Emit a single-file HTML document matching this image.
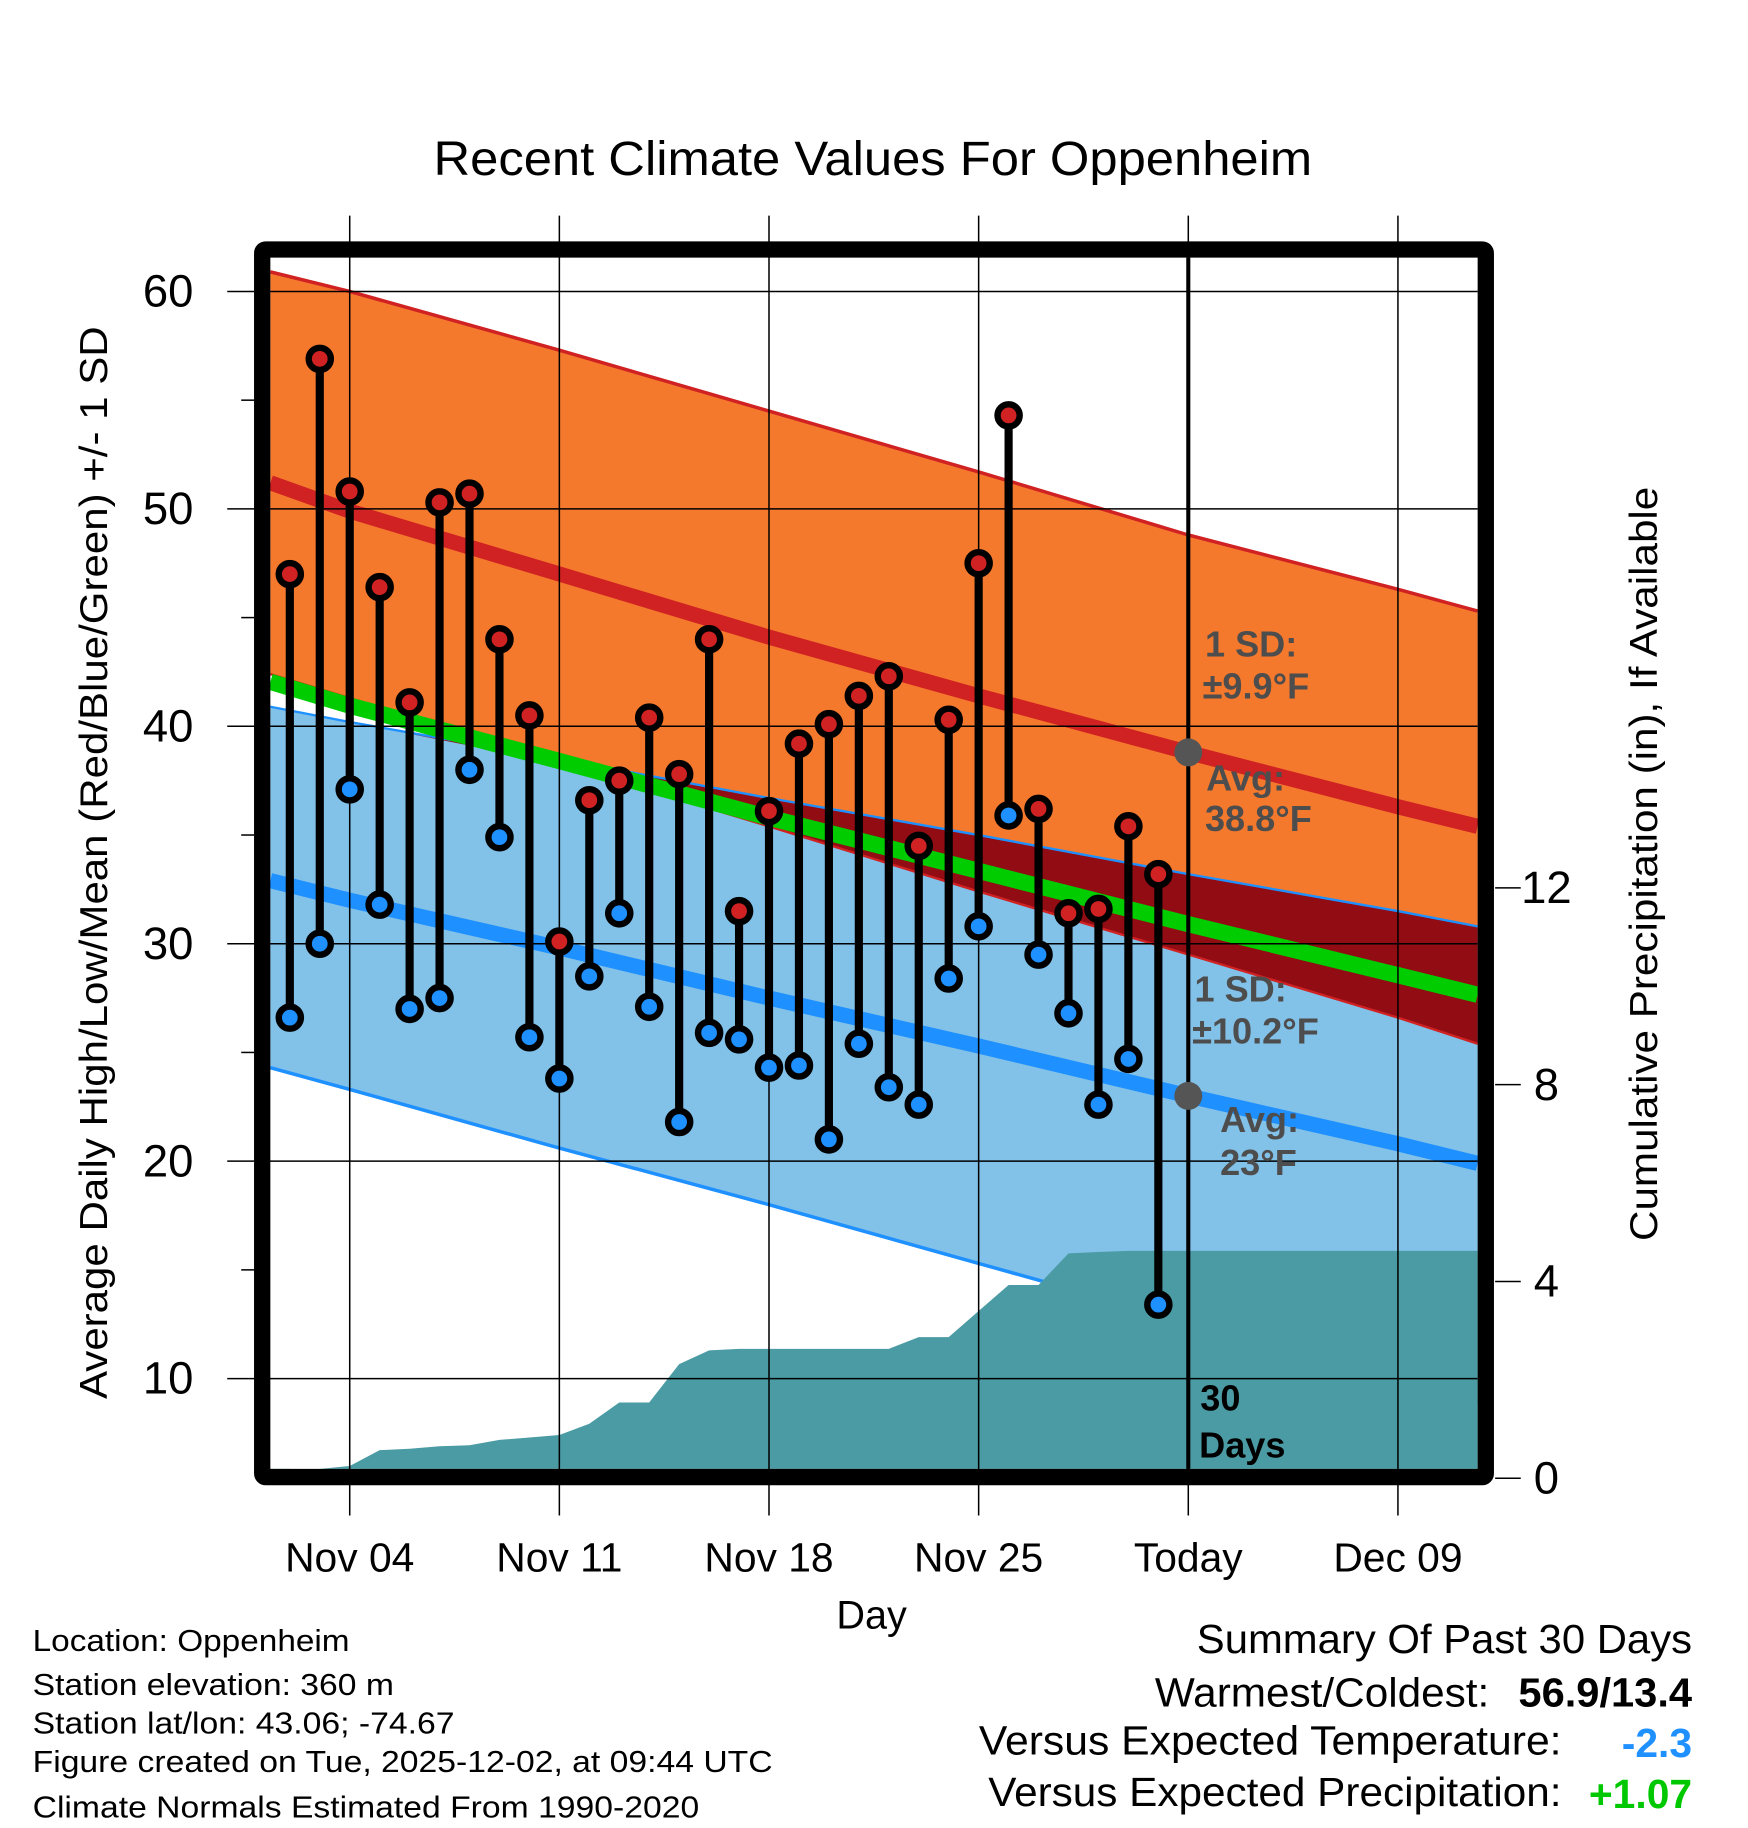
<!DOCTYPE html>
<html><head><meta charset="utf-8"><style>
html,body{margin:0;padding:0;background:#fff}
svg{display:block}
text{font-family:"Liberation Sans",sans-serif}
</style></head><body>
<svg id="chart" width="1748" height="1828" viewBox="0 0 1500 1568" preserveAspectRatio="none" xmlns="http://www.w3.org/2000/svg">
<rect x="0" y="0" width="1500" height="1568" fill="#fff"/>
<g id="plot"></g>
<text x="372" y="150" font-size="41" textLength="754" lengthAdjust="spacingAndGlyphs">Recent Climate Values For Oppenheim</text>
<text transform="translate(92,740) rotate(-90)" font-size="33" text-anchor="middle" textLength="920" lengthAdjust="spacingAndGlyphs">Average Daily High/Low/Mean (Red/Blue/Green) +/- 1 SD</text>
<text transform="translate(1422,741) rotate(-90)" font-size="33" text-anchor="middle" textLength="647" lengthAdjust="spacingAndGlyphs">Cumulative Precipitation (in), If Available</text>
<text x="748" y="1397" font-size="34" text-anchor="middle">Day</text>
<g font-size="26">
<text x="28" y="1416" textLength="272" lengthAdjust="spacingAndGlyphs">Location: Oppenheim</text>
<text x="28" y="1454" textLength="310" lengthAdjust="spacingAndGlyphs">Station elevation: 360 m</text>
<text x="28" y="1487" textLength="362" lengthAdjust="spacingAndGlyphs">Station lat/lon: 43.06; -74.67</text>
<text x="28" y="1520" textLength="635" lengthAdjust="spacingAndGlyphs">Figure created on Tue, 2025-12-02, at 09:44 UTC</text>
<text x="28" y="1559" textLength="572" lengthAdjust="spacingAndGlyphs">Climate Normals Estimated From 1990-2020</text>
</g>
<g font-size="35">
<text x="1027" y="1418" textLength="425" lengthAdjust="spacingAndGlyphs">Summary Of Past 30 Days</text>
<text x="991" y="1464" textLength="287" lengthAdjust="spacingAndGlyphs">Warmest/Coldest:</text>
<text x="1303" y="1464" font-weight="bold" textLength="149" lengthAdjust="spacingAndGlyphs">56.9/13.4</text>
<text x="840" y="1505" textLength="500" lengthAdjust="spacingAndGlyphs">Versus Expected Temperature:</text>
<text x="1452" y="1507" text-anchor="end" font-weight="bold" fill="#1E90FF">-2.3</text>
<text x="848" y="1549" textLength="492" lengthAdjust="spacingAndGlyphs">Versus Expected Precipitation:</text>
<text x="1452" y="1551" text-anchor="end" font-weight="bold" fill="#00C800">+1.07</text>
</g>
</svg>
<script>
// Daily observations (Nov 2 .. Dec 1), day numbers relative to Nov 1 = 1
const obsDays = [2,3,4,5,6,7,8,9,10,11,12,13,14,15,16,17,18,19,20,21,22,23,24,25,26,27,28,29,30,31];
const highs = [47,56.9,50.8,46.4,41.1,50.3,50.7,44,40.5,30.1,36.6,37.5,40.4,37.8,44,31.5,36.1,39.2,40.1,41.4,42.3,34.5,40.3,47.5,54.3,36.2,31.4,31.6,35.4,33.2];
const lows = [26.6,30,37.1,31.8,27,27.5,38,34.9,25.7,23.8,28.5,31.4,27.1,21.8,25.9,25.6,24.3,24.4,21,25.4,23.4,22.6,28.4,30.8,35.9,29.5,26.8,22.6,24.7,13.4];
const precipCum = [0,0.05,0.25,0.57,0.6,0.65,0.67,0.78,0.83,0.88,1.11,1.54,1.54,2.32,2.6,2.63,2.63,2.63,2.63,2.63,2.63,2.87,2.87,3.4,3.93,3.93,4.57,4.6,4.62,4.62];
// Climate normals
const normDays = [1.35,4,11,18,25,32,39,41.66];
const hiUpper = [60.9,60.0,57.3,54.5,51.7,48.8,46.3,45.3];
const hiAvg = [51.2,49.9,47.0,44.1,41.4,38.8,36.3,35.4];
const hiLower = [42.4,41.3,38.3,35.4,32.4,29.5,26.6,25.4];
const loUpper = [40.9,40.2,38.5,36.7,35.0,33.2,31.5,30.8];
const loAvg = [32.9,32.0,29.8,27.5,25.3,23.0,20.8,19.9];
const loLower = [24.3,23.3,20.6,18.0,15.3,12.6,9.9,8.9];
const yTicks = [10,20,30,40,50,60];
const yMinor = [15,25,35,45,55];
const y2Ticks = [0,4,8,12];
const xTickDays = [4,11,18,25,32,39];
const xTickLabels = ["Nov 04","Nov 11","Nov 18","Nov 25","Today","Dec 09"];
const todayDay = 32;

const L=232,R=1268,T=221,B=1260;
const X=d=>223+25.7*(d-1);
const Y=v=>250+(60-v)*18.65;
const Y2=p=>1268-p*42.2;
const NS='http://www.w3.org/2000/svg';
const plot=document.getElementById('plot');
function mk(tag,attrs,parent){const e=document.createElementNS(NS,tag);for(const k in attrs)e.setAttribute(k,attrs[k]);(parent||plot).appendChild(e);return e;}
function pts(days,vals){return days.map((d,i)=>X(d).toFixed(1)+','+Y(vals[i]).toFixed(1));}
function band(up,lo){return pts(normDays,up).concat(pts(normDays,lo).reverse()).join(' ');}

let e;
e=mk('polygon',{points:band(hiUpper,hiLower),fill:'#F5792D'});


e=mk('polygon',{points:band(loUpper,loLower),fill:'#82C1E8'});


const ovBot=hiLower.map((v,i)=>Math.min(v,loUpper[i]));
e=mk('polygon',{points:band(loUpper,ovBot),fill:'#920C14'});


e=mk('polyline',{points:pts(normDays,hiUpper).join(' '),fill:'none',stroke:'#D02222','stroke-width':3});


e=mk('polyline',{points:pts(normDays,hiLower).join(' '),fill:'none',stroke:'#D02222','stroke-width':2});


e=mk('polyline',{points:pts(normDays,loUpper).join(' '),fill:'none',stroke:'#1E90FF','stroke-width':2});


e=mk('polyline',{points:pts(normDays,loLower).join(' '),fill:'none',stroke:'#1E90FF','stroke-width':3});


const meanVals=hiAvg.map((v,i)=>(v+loAvg[i])/2);
e=mk('polyline',{points:pts(normDays,meanVals).join(' '),fill:'none',stroke:'#00CC00','stroke-width':14});


e=mk('polyline',{points:pts(normDays,hiAvg).join(' '),fill:'none',stroke:'#D02222','stroke-width':13});


e=mk('polyline',{points:pts(normDays,loAvg).join(' '),fill:'none',stroke:'#1E90FF','stroke-width':13});



// precipitation area
let pp=[L+','+B, L+','+Y2(0)];
obsDays.forEach((d,i)=>pp.push(X(d).toFixed(1)+','+Math.min(B,Y2(precipCum[i])).toFixed(1)));
pp.push(R+','+Y2(precipCum[precipCum.length-1]).toFixed(1));
pp.push(R+','+B);
e=mk('polygon',{points:pp.join(' '),fill:'#4A9BA4'});



// grid
yTicks.forEach(v=>{
  e=mk('line',{x1:195,x2:R,y1:Y(v),y2:Y(v),stroke:'#000','stroke-width':1.3});
  
  
  e=mk('text',{x:166,y:Y(v)+13,'font-size':39,'text-anchor':'end'});e.textContent=v;
  
  
});
yMinor.forEach(v=>{
  e=mk('line',{x1:207,x2:218,y1:Y(v),y2:Y(v),stroke:'#000','stroke-width':1.3});
  
  
});
y2Ticks.forEach(p=>{
  e=mk('line',{x1:1283,x2:1305,y1:Y2(p),y2:Y2(p),stroke:'#000','stroke-width':1.3});
  
  
  e=mk('text',{x:1327,y:Y2(p)+13,'font-size':39,'text-anchor':'middle'});e.textContent=p;
  
  
});
xTickDays.forEach((d,i)=>{
  e=mk('line',{x1:X(d),x2:X(d),y1:185,y2:1300,stroke:'#000','stroke-width':1.3});
  
  
  e=mk('text',{x:X(d),y:1348,'font-size':35,'text-anchor':'middle'});e.textContent=xTickLabels[i];
  
  
});

// stems and markers
obsDays.forEach((d,i)=>{
  const x=X(d);
  e=mk('line',{x1:x,x2:x,y1:Y(highs[i]),y2:Y(lows[i]),stroke:'#000','stroke-width':7});
  
  
});
obsDays.forEach((d,i)=>{
  const x=X(d);
  e=mk('circle',{cx:x,cy:Y(highs[i]),r:9.5,fill:'#D02222',stroke:'#000','stroke-width':5.5});
  
  
  e=mk('circle',{cx:x,cy:Y(lows[i]),r:9.5,fill:'#1E90FF',stroke:'#000','stroke-width':5.5});
  
  
});

// today line
const tx=X(todayDay);
e=mk('line',{x1:tx,x2:tx,y1:T,y2:B,stroke:'#000','stroke-width':3.5});


const tIdx=5;
e=mk('circle',{cx:tx,cy:Y(hiAvg[tIdx]),r:12,fill:'#555'});


e=mk('circle',{cx:tx,cy:Y(loAvg[tIdx]),r:12,fill:'#555'});


const labels=[[1034,563,'1 SD:'],[1032,599,'±9.9°F'],[1035,678,'Avg:'],[1034,713,'38.8°F'],[1025,859,'1 SD:'],[1023,895,'±10.2°F'],[1047,971,'Avg:'],[1047,1008,'23°F']];
labels.forEach(l=>{
  e=mk('text',{x:l[0],y:l[1],'font-size':31,'font-weight':'bold',fill:'#4d4d4d'});e.textContent=l[2];
  
  
});
e=mk('text',{x:1030,y:1210,'font-size':31,'font-weight':'bold',fill:'#000'});e.textContent='30';


e=mk('text',{x:1029,y:1250,'font-size':31,'font-weight':'bold',fill:'#000'});e.textContent='Days';



// frame
e=mk('rect',{x:225,y:214,width:1050,height:1053,fill:'none',stroke:'#000','stroke-width':14,rx:3});


</script>
</body></html>
